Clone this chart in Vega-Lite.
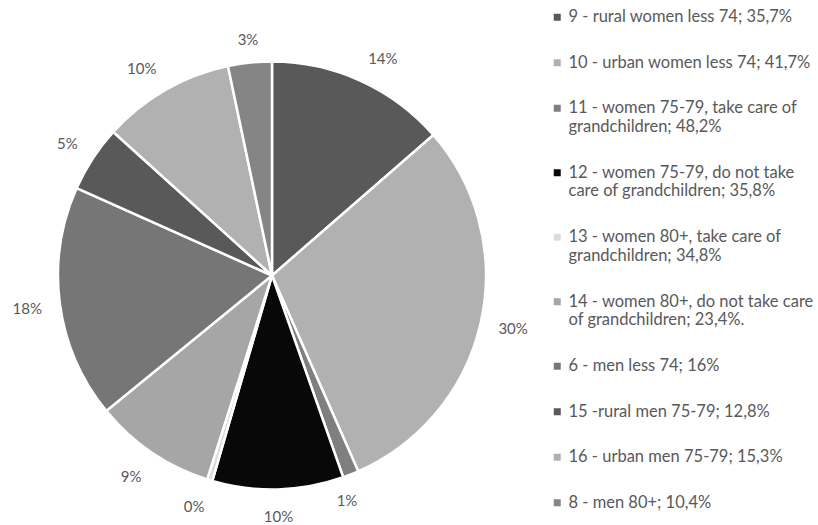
{
  "$schema": "https://vega.github.io/schema/vega-lite/v6.json",
  "width": 544,
  "height": 499,
  "autosize": {"type": "none"},
  "padding": {"left": 0, "top": 26, "right": 274, "bottom": 0},
  "background": "white",
  "config": {"view": {"stroke": null}},
  "data": {
    "values": [
      {"order": 1, "category": "9 - rural women less 74; 35,7%", "value": 13.6, "label": "14%"},
      {"order": 2, "category": "10 - urban women less 74; 41,7%", "value": 29.8, "label": "30%"},
      {"order": 3, "category": "11 - women 75-79, take care of|grandchildren; 48,2%", "value": 1.2, "label": "1%"},
      {"order": 4, "category": "12 - women 75-79, do not take|care of grandchildren; 35,8%", "value": 9.9, "label": "10%"},
      {"order": 5, "category": "13 - women 80+, take care of|grandchildren; 34,8%", "value": 0.4, "label": "0%"},
      {"order": 6, "category": "14 - women 80+, do not take care|of grandchildren; 23,4%.", "value": 9.2, "label": "9%"},
      {"order": 7, "category": "6 - men less 74; 16%", "value": 17.6, "label": "18%"},
      {"order": 8, "category": "15 -rural men 75-79; 12,8%", "value": 5.0, "label": "5%"},
      {"order": 9, "category": "16 - urban men 75-79; 15,3%", "value": 10.0, "label": "10%"},
      {"order": 10, "category": "8 - men 80+; 10,4%", "value": 3.3, "label": "3%"}
    ]
  },
  "encoding": {
    "theta": {"field": "value", "type": "quantitative", "stack": true},
    "order": {"field": "order", "type": "quantitative"}
  },
  "layer": [
    {
      "mark": {"type": "arc", "outerRadius": 214, "stroke": "white", "strokeWidth": 2.5},
      "encoding": {
        "color": {
          "field": "category",
          "type": "nominal",
          "scale": {
            "domain": [
              "9 - rural women less 74; 35,7%",
              "10 - urban women less 74; 41,7%",
              "11 - women 75-79, take care of|grandchildren; 48,2%",
              "12 - women 75-79, do not take|care of grandchildren; 35,8%",
              "13 - women 80+, take care of|grandchildren; 34,8%",
              "14 - women 80+, do not take care|of grandchildren; 23,4%.",
              "6 - men less 74; 16%",
              "15 -rural men 75-79; 12,8%",
              "16 - urban men 75-79; 15,3%",
              "8 - men 80+; 10,4%"
            ],
            "range": ["#595959", "#b0b1b0", "#7f7f7f", "#080808", "#dcdcdc", "#a6a6a6", "#767676", "#595959", "#b0b1b0", "#858585"]
          },
          "legend": {
            "orient": "none",
            "legendX": 549,
            "legendY": -17,
            "title": null,
            "padding": 0,
            "symbolType": "square",
            "symbolSize": 49,
            "symbolStrokeWidth": 0,
            "labelFont": "Lato",
            "labelFontSize": 16.5,
            "labelColor": "#595959",
            "labelOffset": 3,
            "labelLimit": 300,
            "rowPadding": 28.5,
            "labelExpr": "split(datum.label, '|')"
          }
        }
      }
    },
    {
      "mark": {
        "type": "text",
        "radius": 232,
        "dy": 3,
        "font": "Lato",
        "fontSize": 15,
        "fill": "#595959",
        "align": {"expr": "datum.value < 2 ? 'right' : (sin(PI * (datum.value_start + datum.value_end) / 100) > 0.3 ? 'left' : (sin(PI * (datum.value_start + datum.value_end) / 100) < -0.3 ? 'right' : 'center'))"},
        "baseline": {"expr": "cos(PI * (datum.value_start + datum.value_end) / 100) > 0.3 ? 'bottom' : (cos(PI * (datum.value_start + datum.value_end) / 100) < -0.3 ? 'top' : 'middle')"}
      },
      "encoding": {"text": {"field": "label", "type": "nominal"}}
    }
  ]
}
